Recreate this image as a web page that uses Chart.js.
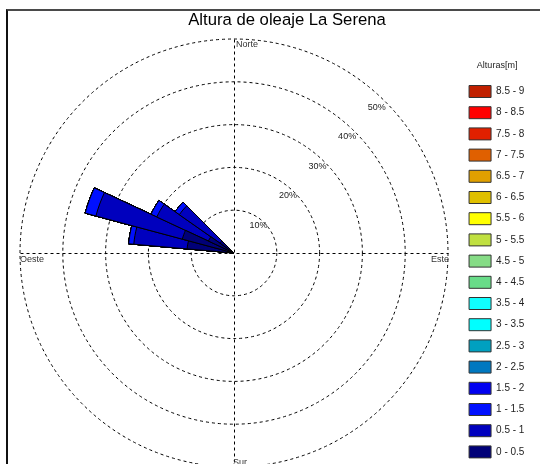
<!DOCTYPE html>
<html>
<head>
<meta charset="utf-8">
<title>Altura de oleaje La Serena</title>
<script src="https://cdn.jsdelivr.net/npm/chart.js@4.4.1/dist/chart.umd.min.js"></script>
<style>
  html, body { margin: 0; padding: 0; background: #fff; overflow: hidden; }
  #wrap { position: relative; width: 540px; height: 468px; }
  #frame {
    position: absolute; left: 6px; top: 9px; right: 0; bottom: -20px;
    border-top: 2px solid #4a4a4a; border-left: 2px solid #111;
    pointer-events: none;
  }
</style>
</head>
<body>
<div id="wrap">
  <canvas id="rose"></canvas>
  <div id="frame"></div>
</div>
<script>
const titleText = "Altura de oleaje La Serena";
const legendTitle = "Alturas[m]";

// direction sectors (degrees from north, clockwise)
const dirLabels = [0, 10, 20, 30, 40, 50, 60, 70, 80, 90, 100, 110, 120, 130, 140, 150, 160, 170,
                   180, 190, 200, 210, 220, 230, 240, 250, 260, 270, 280, 290, 300, 310, 320, 330, 340, 350];

const heightBins = ["0 - 0.5", "0.5 - 1", "1 - 1.5", "1.5 - 2", "2 - 2.5", "2.5 - 3", "3 - 3.5", "3.5 - 4",
                    "4 - 4.5", "4.5 - 5", "5 - 5.5", "5.5 - 6", "6 - 6.5", "6.5 - 7", "7 - 7.5", "7.5 - 8",
                    "8 - 8.5", "8.5 - 9"];
const binColors = ["#000078", "#0000be", "#0010ff", "#0000f0", "#0078c0", "#00a0c0", "#00ffff", "#10ffff",
                   "#68dc88", "#86dc86", "#c0e040", "#ffff00", "#e0c000", "#e0a000", "#e06000", "#e02000",
                   "#ff0000", "#c02000"];

// only the WNW sectors have waves; % of records per height bin
const petalDirs = [280, 290, 300, 310];
const freq_0_05 = [11.0, 12.5, 6.6, 4.0];
const freq_05_1 = [12.5, 20.9, 13.3, 11.6];
const freq_1_15 = [1.2, 2.6, 1.5, 1.2];
const binFreqs = [freq_0_05, freq_05_1, freq_1_15];

const ringTicks = [10, 20, 30, 40, 50];
const compass = ["Norte", "Este", "Sur", "Oeste"];

const family = "'Liberation Sans', Arial, sans-serif";

// stacked bins drawn as overlaid cumulative wedges (first dataset is on top)
var running = dirLabels.map(function() { return 0; });
var datasets = heightBins.map(function(bin, b) {
  var f = binFreqs[b];
  if (f) {
    petalDirs.forEach(function(d, k) {
      running[dirLabels.indexOf(d)] += f[k];
    });
  }
  return {
    label: bin,
    data: running.slice(),
    backgroundColor: binColors[b],
    borderColor: "#000",
    borderWidth: function(c) { return c.raw > 0 ? 1 : 0; }
  };
});

const roseOverlay = {
  id: "roseOverlay",
  beforeDatasetsDraw(chart) {
    var r = chart.scales.r;
    var ctx = chart.ctx;
    var R = r.getDistanceFromCenterForValue(r.max);
    var x = r.xCenter + 0.5, y = r.yCenter + 0.5;
    ctx.save();
    ctx.strokeStyle = "#000";
    ctx.lineWidth = 1;
    ctx.setLineDash([3, 3]);
    ctx.beginPath();
    ctx.moveTo(x - R, y); ctx.lineTo(x + R, y);
    ctx.moveTo(x, y - R); ctx.lineTo(x, y + R);
    ctx.stroke();
    ctx.restore();
  },
  afterDraw(chart) {
    var r = chart.scales.r;
    var ctx = chart.ctx;
    var cx = r.xCenter, cy = r.yCenter;
    var R = r.getDistanceFromCenterForValue(r.max);
    ctx.save();
    ctx.fillStyle = "#333";
    ctx.font = "9px " + family;
    ctx.textBaseline = "top";
    ctx.textAlign = "left";
    ctx.fillText(compass[0], cx + 2, cy - R + 1);
    ctx.fillText(compass[3], cx - R, cy + 2);
    ctx.fillText(compass[2], cx - 1, cy + R - 9);
    ctx.textAlign = "right";
    ctx.fillText(compass[1], cx + R + 1, cy + 2);

    // ring labels along the NE diagonal
    ctx.textAlign = "center";
    ctx.textBaseline = "middle";
    ctx.fillStyle = "#222";
    ringTicks.forEach(function(v) {
      var d = r.getDistanceFromCenterForValue(v);
      var k = 0.69 * d - 5;
      ctx.fillText(v + "%", cx + k, cy - k - 3);
    });

    // title
    ctx.fillStyle = "#000";
    ctx.font = "16.7px " + family;
    ctx.fillText(titleText, 287, 20);
    ctx.restore();
  }
};

new Chart("rose", {
  type: "polarArea",
  data: {
    labels: dirLabels,
    datasets: datasets
  },
  options: {
    responsive: true,
    maintainAspectRatio: false,
    animation: false,
    layout: { padding: { left: 9.2, right: 5.6, top: 39, bottom: 0 } },
    scales: {
      r: {
        min: 0,
        max: 50,
        startAngle: -5,
        ticks: { display: false, stepSize: 10 },
        grid: { color: "#000", lineWidth: 1, circular: true },
        border: { dash: [3, 3] },
        angleLines: { display: false },
        pointLabels: { display: false }
      }
    },
    plugins: {
      tooltip: { enabled: false },
      legend: {
        position: "right",
        align: "start",
        reverse: true,
        onClick: null,
        title: {
          display: true,
          text: legendTitle,
          position: "center",
          color: "#222",
          font: { size: 9, family: family },
          padding: { top: 22.5, bottom: 4 }
        },
        labels: {
          boxWidth: 22,
          boxHeight: 12,
          padding: 9.2,
          color: "#222",
          font: { size: 10, family: family },
          generateLabels: function(chart) {
            return chart.data.datasets.map(function(ds, i) {
              return {
                text: ds.label,
                fillStyle: ds.backgroundColor,
                strokeStyle: "#333",
                lineWidth: 1,
                hidden: false,
                datasetIndex: i,
                fontColor: "#222"
              };
            });
          }
        }
      }
    }
  },
  plugins: [roseOverlay]
});
</script>
</body>
</html>
